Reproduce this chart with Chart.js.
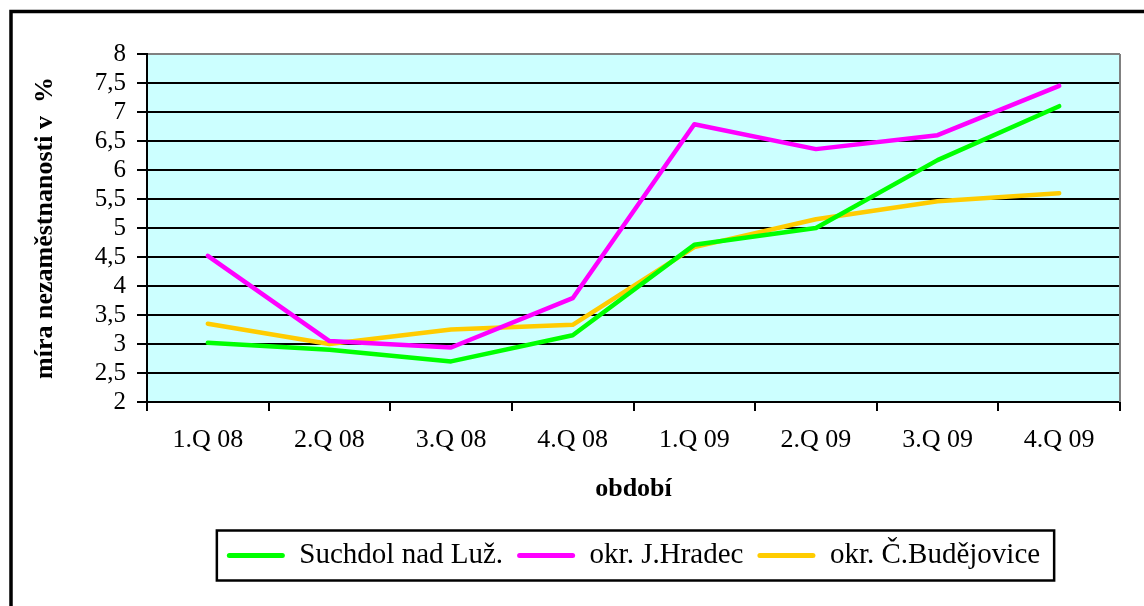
<!DOCTYPE html>
<html>
<head>
<meta charset="utf-8">
<script src="https://cdn.jsdelivr.net/npm/chart.js@4"></script>
<style>
  html, body { margin: 0; padding: 0; background: #ffffff; }
  canvas { display: block; }
</style>
</head>
<body>
<canvas id="c" width="1144" height="606"></canvas>
<script>
const categories = ['1.Q 08', '2.Q 08', '3.Q 08', '4.Q 08', '1.Q 09', '2.Q 09', '3.Q 09', '4.Q 09'];
const suchdol = [3.02, 2.9, 2.7, 3.15, 4.71, 5.0, 6.17, 7.1];
const jHradec = [4.52, 3.05, 2.94, 3.79, 6.79, 6.36, 6.6, 7.45];
const cBudejovice = [3.35, 3.0, 3.25, 3.33, 4.67, 5.15, 5.46, 5.6];
const seriesNames = ['Suchdol nad Luž.', 'okr. J.Hradec', 'okr. Č.Budějovice'];
const yTickLabels = ['2', '2,5', '3', '3,5', '4', '4,5', '5', '5,5', '6', '6,5', '7', '7,5', '8'];
const yAxisTitle = 'míra nezaměstnanosti v  %';
const xAxisTitle = 'období';

const serif = "'Liberation Serif', 'Times New Roman', serif";

const decor = {
  id: 'decor',
  beforeDraw(chart) {
    const {ctx, chartArea: a} = chart;
    ctx.save();
    ctx.fillStyle = '#ccffff';
    ctx.fillRect(a.left, a.top, a.right - a.left, a.bottom - a.top);
    ctx.restore();
  },
  afterDraw(chart) {
    const {ctx, chartArea: a} = chart;
    ctx.save();
    ctx.strokeStyle = '#808080';
    ctx.lineWidth = 2;
    ctx.beginPath();
    ctx.moveTo(a.right, a.top);
    ctx.lineTo(a.right, a.bottom);
    ctx.stroke();
    ctx.strokeStyle = '#000000';
    ctx.lineWidth = 3.5;
    ctx.beginPath();
    ctx.moveTo(chart.width + 5, 11.5);
    ctx.lineTo(11, 11.5);
    ctx.lineTo(11, chart.height + 5);
    ctx.stroke();
    const boxes = chart.legend && chart.legend.legendHitBoxes;
    if (boxes && boxes.length) {
      const l = Math.min(...boxes.map(b => b.left)) - 10;
      const r = Math.max(...boxes.map(b => b.left + b.width)) + 14;
      const cy = boxes[0].top + boxes[0].height / 2;
      ctx.lineWidth = 2.5;
      ctx.strokeRect(l, cy - 25, r - l, 50);
    }
    ctx.restore();
  }
};

new Chart(document.getElementById('c'), {
  type: 'line',
  data: {
    labels: categories,
    datasets: [
      { label: seriesNames[0], data: suchdol, borderColor: '#00ff00', backgroundColor: '#00ff00' },
      { label: seriesNames[1], data: jHradec, borderColor: '#ff00ff', backgroundColor: '#ff00ff' },
      { label: seriesNames[2], data: cBudejovice, borderColor: '#ffcc00', backgroundColor: '#ffcc00' }
    ]
  },
  options: {
    responsive: false,
    devicePixelRatio: 1,
    animation: false,
    layout: { padding: { top: 54, right: 24, left: 0, bottom: 26 } },
    elements: {
      line: { borderWidth: 4.5, tension: 0, borderCapStyle: 'round', borderJoinStyle: 'round' },
      point: { radius: 0, hoverRadius: 0 }
    },
    plugins: {
      tooltip: { enabled: false },
      legend: {
        position: 'bottom',
        fullSize: false,
        labels: {
          color: '#000000',
          font: { family: serif, size: 29 },
          boxWidth: 58,
          boxHeight: 5,
          padding: 14,
          generateLabels(chart) {
            return Chart.defaults.plugins.legend.labels.generateLabels(chart).map(l =>
              Object.assign({}, l, { lineWidth: 0, fillStyle: l.strokeStyle, borderRadius: 2.5 }));
          }
        }
      }
    },
    scales: {
      x: {
        type: 'category',
        offset: true,
        grid: {
          offset: true,
          drawOnChartArea: false,
          drawTicks: true,
          tickLength: 9,
          tickColor: '#000000',
          lineWidth: 2
        },
        border: { display: true, color: '#000000', width: 2 },
        ticks: {
          color: '#000000',
          font: { family: serif, size: 26 },
          padding: 14,
          autoSkip: false,
          maxRotation: 0,
          minRotation: 0
        },
        title: {
          display: true,
          text: xAxisTitle,
          color: '#000000',
          font: { family: serif, size: 26, weight: 'bold' },
          padding: { top: 0, bottom: 22 }
        },
        afterFit(scale) { scale.height = 125; }
      },
      y: {
        min: 2,
        max: 8,
        grid: {
          color: ctx => (ctx.tick && ctx.tick.value === 8 ? '#808080' : '#000000'),
          tickColor: '#000000',
          lineWidth: 2,
          tickLength: 10
        },
        border: { display: true, color: '#000000', width: 2 },
        ticks: {
          stepSize: 0.5,
          autoSkip: false,
          color: '#000000',
          font: { family: serif, size: 25 },
          padding: 11,
          callback: (v, i) => yTickLabels[i]
        },
        title: {
          display: true,
          text: yAxisTitle,
          color: '#000000',
          font: { family: serif, size: 26, weight: 'bold' },
          padding: { top: 30, bottom: 0 }
        },
        afterFit(scale) { scale.width = 147; }
      }
    }
  },
  plugins: [decor]
});
</script>
</body>
</html>
